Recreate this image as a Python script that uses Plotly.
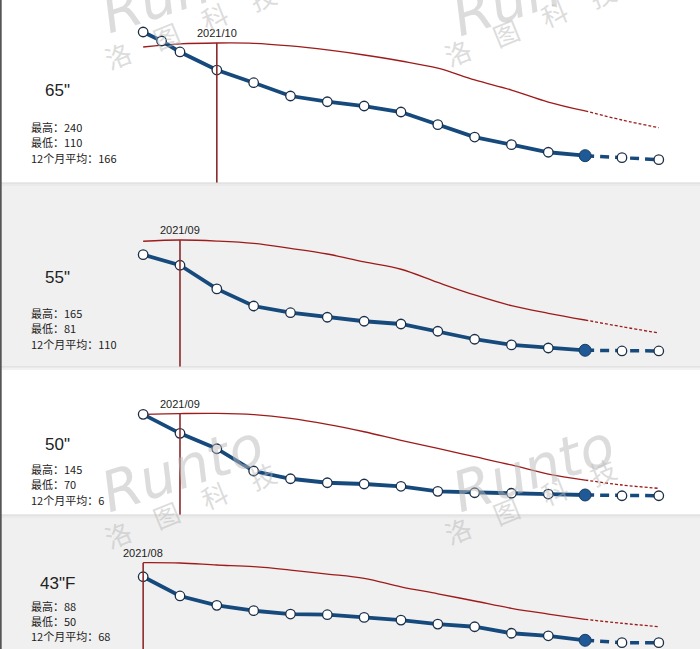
import plotly.graph_objects as go

# ---------------- data ----------------
month_labels = ["2021/08", "2021/09", "2021/10", "2021/11", "2021/12", "2022/01", "2022/02",
                "2022/03", "2022/04", "2022/05", "2022/06", "2022/07", "2022/08", "2022/09", "2022/10"]
trend_months = list(range(15))
last_actual = 12  # 2022/08, later points are forecast

sizes = ['65"', '55"', '50"', '43"F']

months_65 = [0, 0.5, 1, 2, 3, 4, 5, 6, 7, 8, 9, 10, 11, 12, 13, 14]
price_65 = [240, 230.5, 219, 200, 186.7, 172.7, 166.7, 162.2, 155.9, 142.6, 129.6, 121.6, 113.6, 110, 107.9, 105.8]
trend_65 = [224.2, 227.4, 228.4, 228.1, 225.3, 221.1, 215.8, 209.5, 201.9, 189.6, 179.0, 166.4, 157.0, 147.5, 139.4]

months_55 = list(range(15))
price_55 = [165, 155.7, 134.9, 119.9, 114.0, 110.0, 106.5, 104.1, 97.7, 90.7, 85.7, 83.0, 81, 80.4, 80.4]
trend_55 = [176.8, 177.9, 177.0, 175.0, 170.6, 165.6, 158.6, 152.2, 140.6, 129.6, 120.2, 113.5, 107.6, 101.7, 96.2]

months_50 = list(range(15))
price_50 = [145, 127.3, 113.0, 92.3, 85.1, 81.4, 80.2, 78.1, 73.4, 72.1, 71.6, 70.9, 70, 69.3, 69.3]
trend_50 = [145, 145.7, 145.9, 144.8, 141.3, 135.7, 128.8, 120.8, 113.4, 105.6, 97.9, 89.5, 83.9, 79.3, 76.2]

months_43 = list(range(15))
price_43 = [88, 76.5, 70.9, 67.7, 65.7, 65.3, 63.7, 62.1, 59.7, 58.1, 54.2, 52.7, 50, 48.6, 48.6]
trend_43 = [96.4, 96.2, 95.0, 94.0, 92.0, 89.6, 87.0, 82.0, 77.8, 73.5, 69.1, 65.7, 62.5, 60.2, 58.1]

mark_month = ["2021/10", "2021/09", "2021/09", "2021/08"]
stat_high = ["240", "165", "145", "88"]
stat_low = ["110", "81", "70", "50"]
stat_avg = ["166", "110", "6", "68"]

panels = [
    (months_65, price_65, trend_65),
    (months_55, price_55, trend_55),
    (months_50, price_50, trend_50),
    (months_43, price_43, trend_43),
]

# ---------------- layout geometry ----------------
W, H = 700, 649
bands = [(0, 183), (183, 367), (367, 515), (515, 649)]   # pixel bands of panels
yranges = [(81.3, 273.6), (66.3, 228.0), (51.4, 189.0), (44.8, 124.9)]
bg = ["#ffffff", "#f0f0f0", "#ffffff", "#f0f0f0"]
xrange_ = [-3.887, 15.119]

BLUE = "#174a7c"
BLUE_FILL = "#1f5a96"
RED = "#9e1b1b"
VLINE = "#8b2a2a"
TXT = "#222222"

fig = go.Figure()
shapes = []
annotations = []

def py(p):
    return 1 - p / H

for i, (mx, pv, tv) in enumerate(panels):
    n = i + 1
    xa = "x" if n == 1 else f"x{n}"
    ya = "y" if n == 1 else f"y{n}"
    y0p, y1p = bands[i]
    # background
    shapes.append(dict(type="rect", xref="paper", yref="paper", x0=0, x1=1,
                       y0=py(y1p), y1=py(y0p), fillcolor=bg[i], line_width=0, layer="below"))
    if i > 0:
        shapes.append(dict(type="line", xref="paper", yref="paper", x0=0, x1=1,
                           y0=py(y0p), y1=py(y0p), line=dict(color="#d4d4d4", width=1)))
        shapes.append(dict(type="line", xref="paper", yref="paper", x0=0, x1=1,
                           y0=py(y0p + 2), y1=py(y0p + 2), line=dict(color="#e4e4e4", width=1)))

    k = mx.index(last_actual)
    kt = trend_months.index(last_actual)
    # trend line (red)
    fig.add_trace(go.Scatter(x=trend_months[:kt + 1], y=tv[:kt + 1], mode="lines",
                             line=dict(color=RED, width=1.3, shape="spline", smoothing=1),
                             xaxis=xa, yaxis=ya, hoverinfo="skip"))
    fig.add_trace(go.Scatter(x=trend_months[kt:], y=tv[kt:], mode="lines",
                             line=dict(color=RED, width=1.3, dash="3px,2px", shape="spline"),
                             xaxis=xa, yaxis=ya, hoverinfo="skip"))
    # vertical marker line
    mi = month_labels.index(mark_month[i])
    top = tv[trend_months.index(mi)]
    shapes.append(dict(type="line", xref=xa, yref=ya, x0=mi, x1=mi, y0=yranges[i][0], y1=top,
                       line=dict(color=VLINE, width=1.6)))
    annotations.append(dict(xref=xa, yref=ya, x=mi, y=top, text=mark_month[i], showarrow=False,
                            xanchor="center", yanchor="bottom", yshift=2,
                            font=dict(family="Liberation Sans, Arial", size=11, color=TXT)))
    # forecast blue dashed
    fig.add_trace(go.Scatter(x=mx[k:], y=pv[k:], mode="lines+markers",
                             line=dict(color=BLUE, width=3.5, dash="9px,6px"),
                             marker=dict(size=9.5, color="white", line=dict(color="#1c2f48", width=1.3)),
                             xaxis=xa, yaxis=ya, hoverinfo="skip", cliponaxis=False))
    # actual blue solid
    fig.add_trace(go.Scatter(x=mx[:k + 1], y=pv[:k + 1], mode="lines",
                             line=dict(color=BLUE, width=3.8),
                             xaxis=xa, yaxis=ya, hoverinfo="skip"))
    fig.add_trace(go.Scatter(x=mx[:k], y=pv[:k], mode="markers",
                             marker=dict(size=9.5, color="white", line=dict(color="#1c2f48", width=1.3)),
                             xaxis=xa, yaxis=ya, hoverinfo="skip", cliponaxis=False))
    fig.add_trace(go.Scatter(x=[mx[k]], y=[pv[k]], mode="markers",
                             marker=dict(size=12, color=BLUE_FILL, line=dict(color="#163d66", width=1)),
                             xaxis=xa, yaxis=ya, hoverinfo="skip", cliponaxis=False))

    # axes
    fig.layout[("xaxis" if n == 1 else f"xaxis{n}")] = dict(
        range=xrange_, domain=[0, 1], anchor=ya, visible=False, fixedrange=True)
    fig.layout[("yaxis" if n == 1 else f"yaxis{n}")] = dict(
        range=list(yranges[i]), domain=[py(y1p), py(y0p)], anchor=xa, visible=False, fixedrange=True)

# left-side labels
size_y = [91, 277, 444, 583]
stat_y0 = [127, 313, 469, 605.5]
for i in range(4):
    annotations.append(dict(xref="paper", yref="paper", x=58 / W, y=py(size_y[i]), text=sizes[i],
                            showarrow=False, xanchor="center", yanchor="middle",
                            font=dict(family="Liberation Sans, Arial", size=17, color=TXT)))
    lines = ["最高：" + stat_high[i], "最低：" + stat_low[i], "12个月平均：" + stat_avg[i]]
    for j, t in enumerate(lines):
        annotations.append(dict(xref="paper", yref="paper", x=29 / W, y=py(stat_y0[i] + 15.3 * j),
                                text=t, showarrow=False, xanchor="left", yanchor="middle",
                                font=dict(family="Noto Sans CJK SC", size=11, color=TXT)))

# watermarks
wm_color = "rgba(185,185,185,0.5)"
for (rx, ry, cx, cy) in [(182, -11, 190, 25), (533, -7, 530, 23), (182, 468, 190, 504), (533, 468, 530, 500)]:
    annotations.append(dict(xref="paper", yref="paper", x=rx / W, y=py(ry), text="<i>Runto</i>",
                            showarrow=False, xanchor="center", yanchor="middle", textangle=-18,
                            font=dict(family="DejaVu Sans", size=56, color=wm_color)))
    annotations.append(dict(xref="paper", yref="paper", x=cx / W, y=py(cy), text="洛　图　科　技",
                            showarrow=False, xanchor="center", yanchor="middle", textangle=-22,
                            font=dict(family="Noto Sans CJK SC", size=26, color=wm_color)))

# left border
shapes.append(dict(type="line", xref="paper", yref="paper", x0=0.001, x1=0.001, y0=0, y1=1,
                   line=dict(color="#555555", width=2)))

fig.update_layout(width=W, height=H, margin=dict(l=0, r=0, t=0, b=0, autoexpand=False),
                  paper_bgcolor="white", plot_bgcolor="rgba(0,0,0,0)", showlegend=False,
                  shapes=shapes, annotations=annotations)

fig.write_html("out.html", config={"displayModeBar": False},
               post_script="document.body.style.margin='0';document.body.style.overflow='hidden';")
